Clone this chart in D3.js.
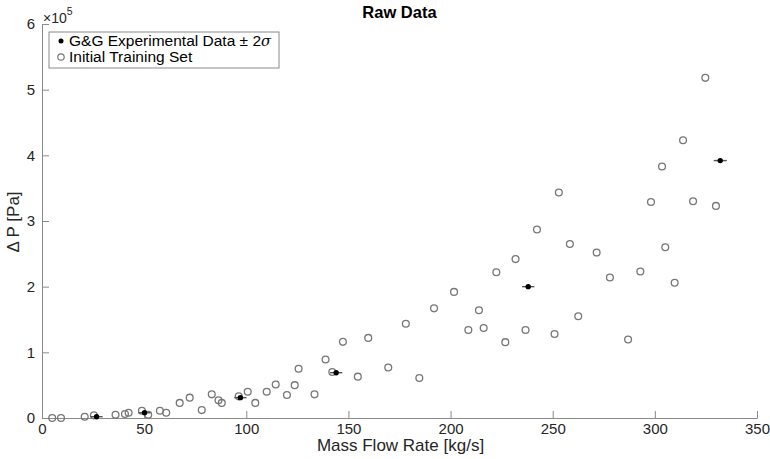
<!DOCTYPE html>
<html>
<head>
<meta charset="utf-8">
<script src="https://cdn.jsdelivr.net/npm/d3@7"></script>
<style>
  body { margin: 0; background: #fff; }
  svg { display: block; font-family: "Liberation Sans", Arial, Helvetica, sans-serif; }
</style>
</head>
<body>
<svg id="chart" width="770" height="459"></svg>
<script>
// Initial training set: mass flow rate [kg/s] and pressure drop [Pa / 1e5]
const trainFlow = [5.0, 9.3, 20.9, 25.4, 36.0, 40.6, 42.4, 48.9, 52.0, 57.7, 60.8,
  67.4, 72.3, 78.2, 83.1, 86.4, 88.0, 96.3, 100.7, 104.4, 110.0, 114.4, 119.9,
  123.7, 125.6, 133.4, 138.8, 142.1, 147.3, 154.6, 159.7, 169.5, 178.1, 184.7,
  191.9, 201.7, 208.7, 213.9, 216.2, 222.4, 226.8, 231.8, 236.7, 242.3, 250.9,
  253.0, 258.4, 262.5, 271.5, 278.0, 286.9, 292.9, 298.1, 303.5, 305.1, 309.7,
  313.8, 318.7, 324.7, 329.9];
const trainDP = [0.0, 0.0, 0.02, 0.04, 0.05, 0.06, 0.08, 0.11, 0.05, 0.11, 0.08,
  0.23, 0.31, 0.12, 0.36, 0.27, 0.23, 0.33, 0.40, 0.23, 0.40, 0.51, 0.35,
  0.50, 0.75, 0.36, 0.89, 0.70, 1.16, 0.63, 1.22, 0.77, 1.435, 0.61,
  1.67, 1.92, 1.34, 1.64, 1.37, 2.22, 1.155, 2.42, 1.34, 2.87, 1.28,
  3.435, 2.65, 1.55, 2.52, 2.14, 1.195, 2.23, 3.29, 3.83, 2.60, 2.06,
  4.23, 3.30, 5.18, 3.23];

// G&G experimental data with 2-sigma spread on flow rate
const expFlow = [26.7, 50.2, 97.1, 144.0, 238.0, 332.0];
const expDP = [0.02, 0.08, 0.31, 0.69, 2.00, 3.92];
const expErr = [3.0, 3.0, 3.0, 3.0, 3.0, 3.2];

const xTicks = [0, 50, 100, 150, 200, 250, 300, 350];
const yTicks = [0, 1, 2, 3, 4, 5, 6];

const svg = d3.select("#chart");
const plotL = 42, plotR = 757, plotT = 24, plotB = 418;

const x = d3.scaleLinear().domain([0, 350]).range([plotL, plotR]);
const y = d3.scaleLinear().domain([0, 6]).range([plotB, plotT]);

const axisColor = "#8a8a8a";
const textColor = "#262626";

// x axis with inward ticks
const gx = svg.append("g").attr("transform", `translate(0,${plotB})`)
  .call(d3.axisBottom(x).tickValues(xTicks).tickFormat(d3.format("d"))
    .tickSizeInner(-7).tickSizeOuter(0).tickPadding(5));
// y axis with inward ticks
const gy = svg.append("g").attr("transform", `translate(${plotL},0)`)
  .call(d3.axisLeft(y).tickValues(yTicks).tickFormat(d3.format("d"))
    .tickSizeInner(-7).tickSizeOuter(0).tickPadding(7));

[gx, gy].forEach(g => {
  g.select(".domain").attr("stroke", axisColor).attr("stroke-width", 1);
  g.selectAll(".tick line").attr("stroke", axisColor);
  g.selectAll(".tick text").attr("fill", textColor).style("font-size", "15px")
    .style("font-family", "'Liberation Sans', Arial, sans-serif");
});

// exponent label on the y axis
const expo = svg.append("text").attr("x", plotL + 1).attr("y", 23)
  .attr("fill", textColor).style("font-size", "14px");
expo.append("tspan").text("×10");
expo.append("tspan").attr("dy", -8).style("font-size", "10.5px").text("5");

// title
svg.append("text").attr("x", (plotL + plotR) / 2).attr("y", 18)
  .attr("text-anchor", "middle").attr("font-weight", "bold")
  .style("font-size", "16.5px").attr("fill", "#000").text("Raw Data");

// axis labels
svg.append("text").attr("x", (plotL + plotR) / 2 + 1).attr("y", 451)
  .attr("text-anchor", "middle").style("font-size", "17px").attr("fill", textColor)
  .text("Mass Flow Rate [kg/s]");
svg.append("text").attr("transform", `translate(19,${(plotT + plotB) / 2 + 1}) rotate(-90)`)
  .attr("text-anchor", "middle").style("font-size", "17px").attr("fill", textColor)
  .text("Δ P [Pa]");

// training set: open grey circles
svg.append("g").selectAll("circle").data(trainFlow.map((f, i) => [f, trainDP[i]]))
  .join("circle")
  .attr("cx", d => x(d[0])).attr("cy", d => y(d[1])).attr("r", 3.4)
  .attr("fill", "none").attr("stroke", "#777").attr("stroke-width", 1.3);

// experimental data: error bars and filled dots
const exp = expFlow.map((f, i) => ({ f, p: expDP[i], e: expErr[i] }));
svg.append("g").selectAll("line").data(exp).join("line")
  .attr("x1", d => x(d.f - d.e)).attr("x2", d => x(d.f + d.e))
  .attr("y1", d => y(d.p)).attr("y2", d => y(d.p))
  .attr("stroke", "#555").attr("stroke-width", 1.4);
svg.append("g").selectAll("circle").data(exp).join("circle")
  .attr("cx", d => x(d.f)).attr("cy", d => y(d.p)).attr("r", 2.7)
  .attr("fill", "#000");

// legend
const lg = svg.append("g");
lg.append("rect").attr("x", 49).attr("y", 32).attr("width", 230).attr("height", 36)
  .attr("fill", "#fff").attr("stroke", "#8a8a8a").attr("stroke-width", 1);
lg.append("circle").attr("cx", 61).attr("cy", 41).attr("r", 2.5).attr("fill", "#000");
lg.append("circle").attr("cx", 61).attr("cy", 57).attr("r", 3.2)
  .attr("fill", "none").attr("stroke", "#777").attr("stroke-width", 1.2);
const t1 = lg.append("text").attr("x", 69).attr("y", 46).style("font-size", "15.5px").attr("fill", "#000");
t1.append("tspan").text("G&G Experimental Data ± 2");
t1.append("tspan").attr("font-style", "italic").style("font-size", "14.5px")
  .style("font-family", "'DejaVu Serif', serif").text("σ");
lg.append("text").attr("x", 69).attr("y", 62).style("font-size", "15.5px").attr("fill", "#000")
  .text("Initial Training Set");
</script>
</body>
</html>
